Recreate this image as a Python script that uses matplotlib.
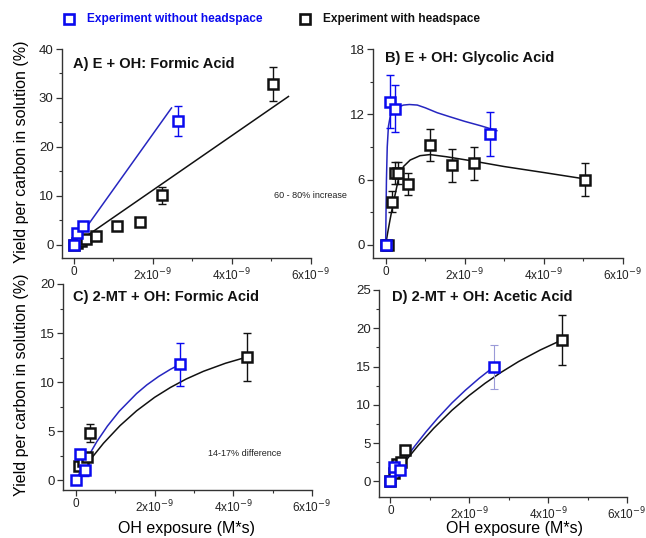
import numpy as np
import matplotlib
matplotlib.use('Agg')
import matplotlib.pyplot as plt
from matplotlib.ticker import MultipleLocator, FuncFormatter

plt.rcParams['font.family'] = ['Liberation Sans', 'DejaVu Sans']

BLUE = '#0a0aef'
BLUE_LINE = '#2626c0'
BLACK = '#111111'

# exposures in units of 1e-9 M*s, yields in %
# A) E + OH: formic acid
a_blue_x = [0.0, 0.08, 0.22, 2.64]
a_blue_y = [0.0, 2.5, 3.75, 25.3]
a_blue_err = [0.0, 0.0, 0.0, 3.0]
a_black_x = [0.0, 0.08, 0.19, 0.30, 0.56, 1.10, 1.67, 2.24, 5.03]
a_black_y = [0.0, 0.3, 0.7, 1.2, 1.85, 3.75, 4.7, 10.1, 32.9]
a_black_err = [0.0, 0.0, 0.0, 0.3, 0.3, 0.3, 0.3, 1.8, 3.5]
a_blue_fit_x = [0.0, 2.47]
a_blue_fit_y = [0.0, 27.95]
a_black_fit_x = [0.0, 5.43]
a_black_fit_y = [0.0, 30.3]

# B) E + OH: glycolic acid
b_blue_x = [0.0, 0.11, 0.24, 2.65]
b_blue_y = [0.0, 13.15, 12.5, 10.2]
b_blue_err = [0.0, 2.45, 2.15, 2.0]
b_black_x = [0.0, 0.07, 0.15, 0.24, 0.30, 0.57, 1.12, 1.68, 2.24, 5.04]
b_black_y = [0.0, 0.0, 3.96, 6.6, 6.6, 5.6, 9.17, 7.3, 7.5, 6.0]
b_black_err = [0.0, 0.0, 0.95, 1.0, 1.0, 1.0, 1.5, 1.5, 1.5, 1.5]
b_blue_fit_x = [0.0, 0.01, 0.02, 0.04, 0.07, 0.12, 0.2, 0.3, 0.45, 0.6, 0.8, 1.0, 1.3, 1.6, 2.0, 2.4, 2.81]
b_blue_fit_y = [0.0, 3.2, 6.0, 9.0, 10.9, 11.9, 12.4, 12.65, 12.85, 12.9, 12.85, 12.6, 12.15, 11.8, 11.35, 10.95, 10.5]
b_black_fit_x = [0.0, 0.05, 0.11, 0.19, 0.32, 0.45, 0.62, 0.87, 1.12, 1.54, 2.22, 3.0, 4.0, 5.15]
b_black_fit_y = [0.0, 1.1, 2.3, 3.8, 6.0, 7.2, 7.8, 8.2, 8.3, 8.1, 7.7, 7.2, 6.65, 6.0]

# C) 2-MT + OH: formic acid
c_blue_x = [0.0, 0.10, 0.23, 2.64]
c_blue_y = [0.0, 2.7, 1.0, 11.8]
c_blue_err = [0.0, 0.0, 0.6, 2.15]
c_black_x = [0.07, 0.17, 0.29, 0.36, 4.34]
c_black_y = [1.46, 2.0, 2.4, 4.83, 12.55]
c_black_err = [0.0, 0.0, 0.3, 0.9, 2.45]
c_blue_fit_x = [0.0, 0.23, 0.53, 0.8, 1.1, 1.54, 1.8, 2.1, 2.4, 2.64]
c_blue_fit_y = [0.0, 1.85, 3.93, 5.52, 7.03, 8.83, 9.71, 10.57, 11.3, 11.8]
c_black_fit_x = [0.0, 0.36, 0.7, 1.12, 1.54, 2.0, 2.4, 2.8, 3.24, 3.8, 4.34]
c_black_fit_y = [0.0, 2.07, 3.77, 5.56, 7.07, 8.45, 9.45, 10.31, 11.1, 11.92, 12.55]

# D) 2-MT + OH: acetic acid
d_blue_x = [0.0, 0.08, 0.25, 2.62]
d_blue_y = [0.0, 1.9, 1.45, 14.97]
d_blue_err = [0.0, 0.0, 0.5, 2.85]
d_black_x = [0.0, 0.09, 0.16, 0.26, 0.36, 4.34]
d_black_y = [0.0, 1.1, 2.2, 2.5, 4.06, 18.45]
d_black_err = [0.0, 0.0, 0.0, 0.3, 0.3, 3.25]
d_blue_fit_x = [0.0, 0.3, 0.6, 0.9, 1.2, 1.56, 1.9, 2.25, 2.62]
d_blue_fit_y = [0.0, 2.34, 4.49, 6.45, 8.26, 10.24, 11.9, 13.46, 14.95]
d_black_fit_x = [0.0, 0.37, 0.71, 1.1, 1.56, 2.0, 2.4, 2.8, 3.25, 3.8, 4.34]
d_black_fit_y = [0.0, 2.58, 4.72, 6.94, 9.28, 11.23, 12.81, 14.22, 15.65, 17.16, 18.45]

W, H = 646, 538
fig = plt.figure(figsize=(W / 100, H / 100), dpi=100)


def px_axes(left, top, right, bottom):
    return fig.add_axes([left / W, 1 - bottom / H, (right - left) / W, (bottom - top) / H])


def xfmt(v, pos):
    n = int(round(v / 1e-9))
    if n == 0:
        return '0'
    return '%dx10$^{-9}$' % n


def style_axes(ax, xlim, ylim, ymaj, ymin):
    ax.set_xlim(*xlim)
    ax.set_ylim(*ylim)
    for s in ('top', 'right'):
        ax.spines[s].set_visible(False)
    for s in ('left', 'bottom'):
        ax.spines[s].set_color('#333333')
        ax.spines[s].set_linewidth(1.0)
    ax.xaxis.set_major_locator(MultipleLocator(2e-9))
    ax.xaxis.set_minor_locator(MultipleLocator(1e-9))
    ax.xaxis.set_major_formatter(FuncFormatter(xfmt))
    ax.yaxis.set_major_locator(MultipleLocator(ymaj))
    ax.yaxis.set_minor_locator(MultipleLocator(ymin))
    ax.tick_params(which='major', direction='out', length=4, width=0.9,
                   color='#333333', labelcolor='#222222')
    ax.tick_params(axis='x', which='major', labelsize=8.5, pad=2)
    ax.tick_params(axis='y', which='major', labelsize=9.5, pad=2)
    ax.tick_params(which='minor', direction='out', length=2.5, width=0.8, color='#333333')
    ax.xaxis.get_offset_text().set_visible(False)


def draw_series(ax, x, y, err, fx, fy, mcolor, lcolor, ecolor, elw):
    x = np.array(x) * 1e-9
    ax.plot(np.array(fx) * 1e-9, fy, color=lcolor, lw=1.1, zorder=2)
    ax.errorbar(x, y, yerr=err, fmt='none', ecolor=ecolor, elinewidth=elw,
                capsize=2.6, capthick=elw, zorder=3)
    ax.plot(x, y, 's', ms=7.5, mfc='white', mec=mcolor, mew=1.8, zorder=4)


def panel_title(ax, txt, x, y):
    ax.text(x, y, txt, transform=ax.transAxes, fontsize=10.5, fontweight='bold',
            ha='left', va='center', color='#111111')


axA = px_axes(62, 49, 311, 258)
style_axes(axA, (-0.3e-9, 6e-9), (-2.7, 40), 10, 5)
draw_series(axA, a_black_x, a_black_y, a_black_err, a_black_fit_x, a_black_fit_y,
            BLACK, BLACK, BLACK, 1.0)
draw_series(axA, a_blue_x, a_blue_y, a_blue_err, a_blue_fit_x, a_blue_fit_y,
            BLUE, BLUE_LINE, BLUE, 1.0)
panel_title(axA, 'A) E + OH: Formic Acid', 0.043, 0.93)
fig.text(310 / W, 1 - 195 / H, '60 - 80% increase', fontsize=6.5, ha='center',
         va='center', color='#222222')

axB = px_axes(373, 49, 623, 258)
style_axes(axB, (-0.32e-9, 6e-9), (-1.2, 18), 6, 3)
draw_series(axB, b_black_x, b_black_y, b_black_err, b_black_fit_x, b_black_fit_y,
            BLACK, BLACK, BLACK, 1.0)
draw_series(axB, b_blue_x, b_blue_y, b_blue_err, b_blue_fit_x, b_blue_fit_y,
            BLUE, BLUE_LINE, BLUE, 1.0)
panel_title(axB, 'B) E + OH: Glycolic Acid', 0.048, 0.955)

axC = px_axes(63, 284, 312, 490)
style_axes(axC, (-0.33e-9, 6e-9), (-1.0, 20), 5, 2.5)
draw_series(axC, c_black_x, c_black_y, c_black_err, c_black_fit_x, c_black_fit_y,
            BLACK, BLACK, BLACK, 1.0)
draw_series(axC, c_blue_x, c_blue_y, c_blue_err, c_blue_fit_x, c_blue_fit_y,
            BLUE, BLUE_LINE, BLUE, 1.0)
panel_title(axC, 'C) 2-MT + OH: Formic Acid', 0.039, 0.938)
fig.text(245 / W, 1 - 454 / H, '14-17% difference', fontsize=6.5, ha='center',
         va='center', color='#222222')

axD = px_axes(379, 290, 627, 497)
style_axes(axD, (-0.29e-9, 6e-9), (-2.05, 25), 5, 2.5)
draw_series(axD, d_black_x, d_black_y, d_black_err, d_black_fit_x, d_black_fit_y,
            BLACK, BLACK, BLACK, 1.0)
draw_series(axD, d_blue_x, d_blue_y, d_blue_err, d_blue_fit_x, d_blue_fit_y,
            BLUE, BLUE_LINE, '#9a9ad8', 0.8)
panel_title(axD, 'D) 2-MT + OH: Acetic Acid', 0.052, 0.965)

# shared axis labels
ylab = 'Yield per carbon in solution (%)'
fig.text(22 / W, 1 - 152 / H, ylab, rotation=90, fontsize=11.5, ha='center', va='center')
fig.text(22 / W, 1 - 385 / H, ylab, rotation=90, fontsize=11.5, ha='center', va='center')
fig.text(186 / W, 1 - 528 / H, 'OH exposure (M*s)', fontsize=11.5, ha='center', va='center')
fig.text(515 / W, 1 - 529 / H, 'OH exposure (M*s)', fontsize=11.5, ha='center', va='center')

# legend row across the top
fig.lines.append(plt.Line2D([69 / W], [1 - 19 / H], marker='s', ms=6.5, mfc='white',
                            mec=BLUE, mew=1.9, transform=fig.transFigure))
fig.text(87 / W, 1 - 19 / H, 'Experiment without headspace', fontsize=8.6,
         fontweight='bold', color=BLUE, ha='left', va='center')
fig.lines.append(plt.Line2D([305 / W], [1 - 19 / H], marker='s', ms=6.5, mfc='white',
                            mec=BLACK, mew=1.9, transform=fig.transFigure))
fig.text(323 / W, 1 - 19 / H, 'Experiment with headspace', fontsize=8.6,
         fontweight='bold', color=BLACK, ha='left', va='center')

fig.savefig('out.png', dpi=100)
